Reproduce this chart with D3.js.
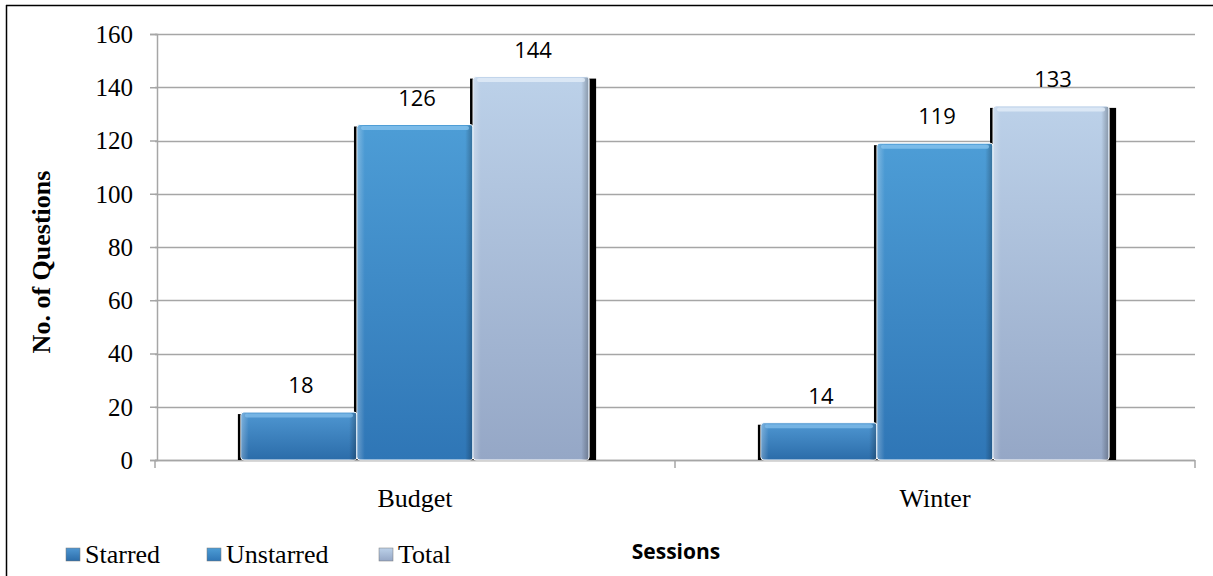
<!DOCTYPE html>
<html>
<head>
<meta charset="utf-8">
<script src="https://cdn.jsdelivr.net/npm/d3@7"></script>
<style>
  body { margin: 0; background: #fff; }
  svg { display: block; }
</style>
</head>
<body>
<div id="chart"></div>
<script>
// data
var sessions = ["Budget", "Winter"];
var seriesNames = ["Starred", "Unstarred", "Total"];
var starred = [18, 14];
var unstarred = [126, 119];
var total = [144, 133];
var yTicks = [0, 20, 40, 60, 80, 100, 120, 140, 160];

var width = 1213, height = 576;
var margin = {left: 155, right: 18, top: 34, bottom: 116};
var plotW = width - margin.left - margin.right;
var plotH = height - margin.top - margin.bottom;

var svg = d3.select("#chart").append("svg")
    .attr("width", width)
    .attr("height", height);

// gradients for the bevelled bars
var defs = svg.append("defs");
var palette = {
  Starred:   {top: "#4f97d2", bottom: "#2b6ca9", edge: "#7fbbe8"},
  Unstarred: {top: "#4d9dd6", bottom: "#2f76b6", edge: "#86c3ee"},
  Total:     {top: "#bcd1e9", bottom: "#95a7c6", edge: "#e2ecf7"}
};
seriesNames.forEach(function(s){
  var g = defs.append("linearGradient").attr("id", "g" + s)
      .attr("x1", 0).attr("y1", 0).attr("x2", 0).attr("y2", 1);
  g.append("stop").attr("offset", "0%").attr("stop-color", palette[s].top);
  g.append("stop").attr("offset", "100%").attr("stop-color", palette[s].bottom);
});
var side = defs.append("linearGradient").attr("id", "sideShade")
    .attr("x1", 0).attr("y1", 0).attr("x2", 1).attr("y2", 0);
side.append("stop").attr("offset", "0%").attr("stop-color", "#fff").attr("stop-opacity", 0.25);
side.append("stop").attr("offset", "6%").attr("stop-color", "#fff").attr("stop-opacity", 0);
side.append("stop").attr("offset", "94%").attr("stop-color", "#000").attr("stop-opacity", 0);
side.append("stop").attr("offset", "100%").attr("stop-color", "#000").attr("stop-opacity", 0.25);

// outer frame (top and left edges show)
svg.append("line").attr("x1", 6).attr("x2", width).attr("y1", 5.5).attr("y2", 5.5)
    .attr("stroke", "#000").attr("stroke-width", 1.5);
svg.append("line").attr("x1", 6.5).attr("x2", 6.5).attr("y1", 5).attr("y2", height)
    .attr("stroke", "#000").attr("stroke-width", 1.5);

var g = svg.append("g").attr("transform", "translate(" + margin.left + "," + margin.top + ")");

var y = d3.scaleLinear().domain([0, 160]).range([plotH, 0]);
var x0 = d3.scaleBand().domain(sessions).range([0, plotW]).paddingInner(0).paddingOuter(0);
var x1 = d3.scaleBand().domain(seriesNames).range([0, x0.bandwidth()]).paddingInner(0).paddingOuter(0.74);

// gridlines
g.append("g").selectAll("line").data(yTicks).enter().append("line")
    .attr("x1", 0).attr("x2", plotW)
    .attr("y1", function(d){ return Math.round(y(d)) + 0.5; })
    .attr("y2", function(d){ return Math.round(y(d)) + 0.5; })
    .attr("stroke", "#a6a6a6").attr("stroke-width", 1.5);

// y axis
var yAxis = g.append("g").attr("transform", "translate(2,0)")
    .call(d3.axisLeft(y).tickValues(yTicks).tickSize(7).tickPadding(17));
yAxis.select(".domain").attr("stroke", "#a6a6a6").attr("stroke-width", 1.5);
yAxis.selectAll(".tick line").attr("stroke", "#a6a6a6").attr("stroke-width", 1.5);
yAxis.selectAll("text").attr("font-family", "Liberation Serif, serif")
    .attr("font-size", 25).attr("fill", "#000").attr("dy", "0.33em");

// x axis with ticks at band edges
var xAxis = g.append("g").attr("transform", "translate(0," + plotH + ")");
xAxis.append("line").attr("x1", 0).attr("x2", plotW).attr("y1", 0.5).attr("y2", 0.5)
    .attr("stroke", "#a6a6a6").attr("stroke-width", 1.5);
var edges = sessions.map(function(s){ return x0(s); }).concat([plotW]);
xAxis.selectAll(".edge").data(edges).enter().append("line")
    .attr("x1", function(d){ return d; }).attr("x2", function(d){ return d; })
    .attr("y1", 0).attr("y2", 8)
    .attr("stroke", "#a6a6a6").attr("stroke-width", 1.5);
xAxis.selectAll(".cat").data(sessions).enter().append("text")
    .attr("x", function(d){ return x0(d) + x0.bandwidth() / 2; })
    .attr("y", 47)
    .attr("text-anchor", "middle")
    .attr("font-family", "Liberation Serif, serif").attr("font-size", 26)
    .text(function(d){ return d; });

// bar records
var rows = [];
sessions.forEach(function(s, i){
  rows.push({session: s, series: "Starred", value: starred[i]});
  rows.push({session: s, series: "Unstarred", value: unstarred[i]});
  rows.push({session: s, series: "Total", value: total[i]});
});

function bx(d){ return x0(d.session) + x1(d.series); }

// black shadows behind bars
g.append("g").selectAll("rect").data(rows).enter().append("rect")
    .attr("x", function(d){ return bx(d) - 3; })
    .attr("y", function(d){ return y(d.value) + 2; })
    .attr("width", function(d){ return x1.bandwidth() + (d.series === "Total" ? 10 : 6); })
    .attr("height", function(d){ return plotH - y(d.value) - 2; })
    .attr("fill", "#000");

var bars = g.append("g").selectAll("g").data(rows).enter().append("g");
bars.append("rect")
    .attr("x", function(d){ return bx(d); })
    .attr("y", function(d){ return y(d.value); })
    .attr("width", x1.bandwidth())
    .attr("height", function(d){ return plotH - y(d.value); })
    .attr("rx", 3)
    .attr("fill", function(d){ return "url(#g" + d.series + ")"; })
    .attr("stroke", "#fff").attr("stroke-width", 1);
bars.append("rect")
    .attr("x", function(d){ return bx(d) + 1; })
    .attr("y", function(d){ return y(d.value) + 1; })
    .attr("width", x1.bandwidth() - 2)
    .attr("height", function(d){ return plotH - y(d.value) - 1; })
    .attr("fill", "url(#sideShade)");
bars.append("rect")
    .attr("x", function(d){ return bx(d) + 4; })
    .attr("y", function(d){ return y(d.value) + 1.5; })
    .attr("width", x1.bandwidth() - 8)
    .attr("height", 4)
    .attr("rx", 2)
    .attr("fill", function(d){ return palette[d.series].edge; })
    .attr("opacity", 0.8);

// value labels
g.append("g").selectAll("text").data(rows).enter().append("text")
    .attr("x", function(d){ return bx(d) + x1.bandwidth() / 2 + 2; })
    .attr("y", function(d){ return y(d.value) - 19; })
    .attr("text-anchor", "middle")
    .attr("font-family", "Open Sans, sans-serif").attr("font-size", 22)
    .attr("fill", "#000")
    .text(function(d){ return d.value; });

// axis titles
svg.append("text")
    .attr("transform", "translate(50,262) rotate(-90)")
    .attr("text-anchor", "middle")
    .attr("font-family", "Liberation Serif, serif").attr("font-size", 26).attr("font-weight", "bold")
    .text("No. of Questions");
svg.append("text")
    .attr("x", 676).attr("y", 559)
    .attr("text-anchor", "middle")
    .attr("font-family", "Open Sans, sans-serif").attr("font-size", 21).attr("font-weight", "bold")
    .text("Sessions");

// legend
var legendX = [66, 207, 379];
var leg = svg.append("g").selectAll("g").data(seriesNames).enter().append("g")
    .attr("transform", function(d, i){ return "translate(" + legendX[i] + ",548)"; });
leg.append("rect").attr("width", 14).attr("height", 13)
    .attr("fill", function(d){ return "url(#g" + d + ")"; })
    .attr("stroke", "#777").attr("stroke-width", 0.5);
leg.append("text").attr("x", 19).attr("y", 15)
    .attr("font-family", "Liberation Serif, serif").attr("font-size", 26)
    .text(function(d){ return d; });
</script>
</body>
</html>
